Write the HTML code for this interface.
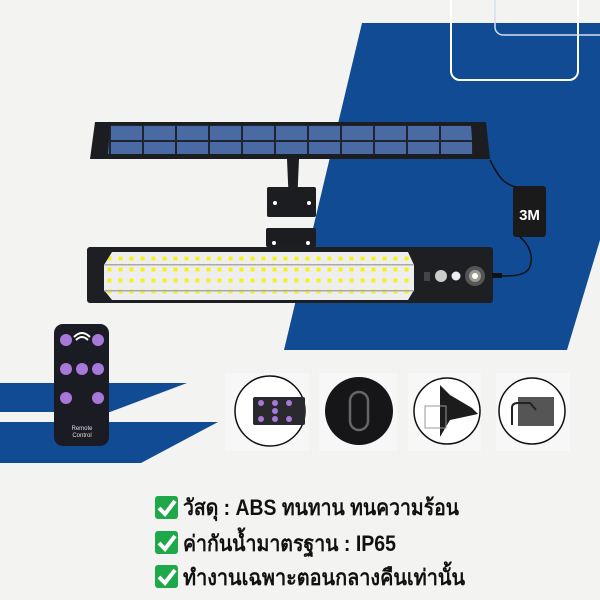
<!DOCTYPE html>
<html><head><meta charset="utf-8"><style>
html,body{margin:0;padding:0;width:600px;height:600px;overflow:hidden;background:#f3f3f2}
svg{display:block}
</style></head><body>
<svg width="600" height="600" viewBox="0 0 600 600" xmlns="http://www.w3.org/2000/svg">
<defs>
<pattern id="led" x="104" y="0" width="11" height="11" patternUnits="userSpaceOnUse">
<rect width="11" height="11" fill="#eeeeee"/><rect x="3.5" y="3.5" width="4" height="4" fill="#f2f21a"/>
</pattern>
<pattern id="cell" x="110" y="125" width="33" height="16" patternUnits="userSpaceOnUse">
<rect width="33" height="16" fill="#1f2530"/><rect x="1" y="1" width="31" height="14" fill="#4a6aa3"/>
</pattern>
</defs>
<rect width="600" height="600" fill="#f3f3f2"/>
<!-- big blue shape -->
<polygon points="362,23 600,23 600,240 567,350 284,350" fill="#104b94"/>
<rect x="451" y="-12" width="127" height="92" rx="9" fill="none" stroke="#fff" stroke-width="2"/>
<rect x="495" y="-12" width="120" height="47" rx="8" fill="none" stroke="#d8e0ee" stroke-width="1.5"/>
<!-- lower left stripes -->
<polygon points="0,383 187,383 110,412 0,412" fill="#104b94"/>
<polygon points="0,422 218,422 141,463 0,463" fill="#104b94"/>
<!-- solar panel -->
<polygon points="95,122 486,122 490,159 90,159" fill="#1c1d20"/>
<polygon points="110,125 471,125 473,154 108,154" fill="url(#cell)"/>
<!-- pole & brackets -->
<path d="M287,159 L299,159 L297,205 L289,205 Z" fill="#1c1d20"/>
<rect x="267" y="187" width="49" height="30" rx="2" fill="#1c1d20"/>
<circle cx="275" cy="203" r="2" fill="#fff"/><circle cx="309" cy="203" r="2" fill="#fff"/>
<rect x="266" y="228" width="50" height="19" rx="2" fill="#1c1d20"/>
<circle cx="274" cy="243" r="2" fill="#fff"/><circle cx="308" cy="243" r="2" fill="#fff"/>
<!-- cable -->
<path d="M490,160 C500,180 505,185 520,188" fill="none" stroke="#111" stroke-width="1.5"/>
<rect x="513" y="186" width="33" height="51" rx="3" fill="#1a1a1a"/>
<text x="529.5" y="220" font-family="Liberation Sans, sans-serif" font-weight="bold" font-size="15" fill="#fff" text-anchor="middle">3M</text>
<path d="M520,237 C535,250 532,265 528,270 C522,276 512,276 500,276" fill="none" stroke="#111" stroke-width="1.5"/>
<!-- light bar -->
<rect x="87" y="247" width="406" height="56" rx="3" fill="#1e1f22"/>
<polygon points="112,252 408,252 414,265 414,290 408,300 112,300 104,290 104,265" fill="url(#led)"/>
<rect x="104" y="264" width="310" height="1.5" fill="#aaa"/><rect x="104" y="290" width="310" height="1.5" fill="#aaa"/>
<rect x="424" y="272" width="6" height="9" fill="#444"/>
<circle cx="441" cy="276" r="6" fill="#ccc"/><circle cx="456" cy="276" r="4.5" fill="#eee"/>
<circle cx="475" cy="276" r="10" fill="#555"/><circle cx="475" cy="276" r="6" fill="#999"/><circle cx="475" cy="276" r="3" fill="#ffe"/>
<rect x="492" y="273" width="10" height="5" fill="#111"/>
<!-- remote -->
<rect x="54" y="324" width="55" height="122" rx="9" fill="#1b1b24"/>
<g fill="#a878d8">
<circle cx="66" cy="340" r="6"/><circle cx="98" cy="340" r="6"/>
<circle cx="66" cy="369" r="6"/><circle cx="82" cy="369" r="6"/><circle cx="98" cy="369" r="6"/>
<circle cx="66" cy="398" r="6"/><circle cx="98" cy="398" r="6"/>
</g>
<path d="M74,337 Q82,329 90,337 M76,340 Q82,334 88,340" stroke="#fff" stroke-width="2" fill="none"/>
<text x="82" y="430" font-family="Liberation Sans, sans-serif" font-size="6" fill="#ddd" text-anchor="middle">Remote</text>
<text x="82" y="437" font-family="Liberation Sans, sans-serif" font-size="6" fill="#ddd" text-anchor="middle">Control</text>
<!-- feature tiles -->
<rect x="225" y="373" width="84" height="78" fill="#f7f7f7"/>
<rect x="319" y="373" width="78" height="78" fill="#f7f7f7"/>
<rect x="408" y="373" width="73" height="78" fill="#f7f7f7"/>
<rect x="496" y="373" width="74" height="78" fill="#f7f7f7"/>
<circle cx="270" cy="411" r="35" fill="#fff" stroke="#111" stroke-width="1.5"/>
<rect x="253" y="397" width="52" height="28" rx="2" fill="#2a2a2e"/>
<g fill="#a878d8"><circle cx="261" cy="403" r="3"/><circle cx="275" cy="403" r="3"/><circle cx="289" cy="403" r="3"/><circle cx="275" cy="411" r="3"/><circle cx="261" cy="419" r="3"/><circle cx="275" cy="419" r="3"/><circle cx="289" cy="419" r="3"/></g>
<circle cx="359" cy="411" r="34" fill="#161618"/>
<rect x="350" y="392" width="18" height="38" rx="9" fill="none" stroke="#666" stroke-width="2.5"/>
<circle cx="447" cy="411" r="33" fill="#fff" stroke="#111" stroke-width="1.5"/>
<path d="M440,385 L450,395 L472,408 L478,414 L450,420 L440,437 Z" fill="#1c1c1c"/>
<path d="M425,406 L446,406 L446,428 L425,428 Z" fill="none" stroke="#999" stroke-width="1"/>
<circle cx="532" cy="411" r="33" fill="#fff" stroke="#111" stroke-width="1.5"/>
<rect x="518" y="397" width="36" height="29" fill="#555"/>
<path d="M512,425 L512,408 Q512,403 518,403 L530,403 L536,410" fill="none" stroke="#222" stroke-width="2"/>
<!-- checks + text -->
<g font-family="Liberation Sans, 'Noto Sans CJK SC', sans-serif" font-weight="bold" font-size="22" fill="#111">
<rect x="155" y="496" width="23" height="23" rx="3" fill="#1ea84a"/>
<path d="M159,508 L165,514 L175,501" stroke="#fff" stroke-width="4" fill="none"/>
<text x="183" y="515" textLength="276" lengthAdjust="spacingAndGlyphs">วัสดุ : ABS ทนทาน ทนความร้อน</text>
<rect x="155" y="531" width="23" height="23" rx="3" fill="#1ea84a"/>
<path d="M159,543 L165,549 L175,536" stroke="#fff" stroke-width="4" fill="none"/>
<text x="183" y="551" textLength="213" lengthAdjust="spacingAndGlyphs">ค่ากันน้ำมาตรฐาน : IP65</text>
<rect x="155" y="565" width="23" height="23" rx="3" fill="#1ea84a"/>
<path d="M159,577 L165,583 L175,570" stroke="#fff" stroke-width="4" fill="none"/>
<text x="183" y="585" textLength="282" lengthAdjust="spacingAndGlyphs">ทำงานเฉพาะตอนกลางคืนเท่านั้น</text>
</g>
</svg>
</body></html>
